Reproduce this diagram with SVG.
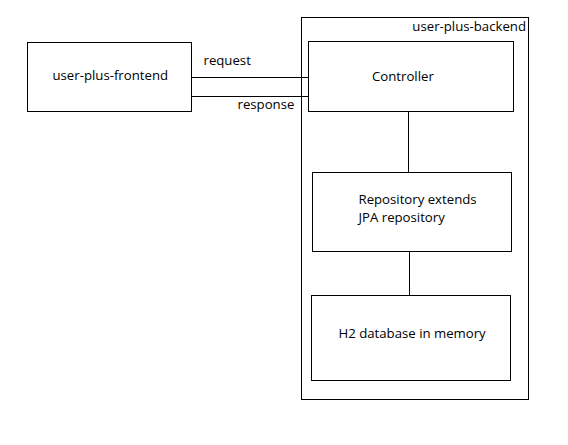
<svg xmlns="http://www.w3.org/2000/svg" width="568" height="445" viewBox="0 0 568 445">
<style>
.box{fill:#fff;stroke:#000;stroke-width:1}
.ln{stroke:#000;stroke-width:1;fill:none}
text{font-family:"Open Sans","Noto Sans","DejaVu Sans",sans-serif;font-size:13.2px;fill:#000}
</style>
<rect width="568" height="445" fill="#fff"/>
<g id="backend">
<rect class="box" x="301.5" y="17.5" width="227" height="382"/>
<text x="526" y="31" text-anchor="end">user-plus-backend</text>
</g>
<g id="frontend">
<rect class="box" x="27.5" y="42.5" width="164" height="69"/>
<text x="52.5" y="80">user-plus-frontend</text>
</g>
<g id="controller">
<rect class="box" x="308.5" y="41.5" width="205" height="70"/>
<text x="372" y="81">Controller</text>
</g>
<g id="repository">
<rect class="box" x="312.5" y="172.5" width="199" height="79"/>
<text x="358.5" y="204">Repository extends</text>
<text x="358.5" y="222">JPA repository</text>
</g>
<g id="h2">
<rect class="box" x="311.5" y="295.5" width="199" height="85"/>
<text x="338.5" y="337.5">H2 database in memory</text>
</g>
<g id="connectors">
<line class="ln" x1="191.5" y1="77.5" x2="308.5" y2="77.5"/>
<line class="ln" x1="191.5" y1="96.5" x2="308.5" y2="96.5"/>
<line class="ln" x1="408.5" y1="111.5" x2="408.5" y2="172.5"/>
<line class="ln" x1="409.5" y1="251.5" x2="409.5" y2="295.5"/>
<text x="203.5" y="65">request</text>
<text x="237.5" y="109">response</text>
</g>
</svg>
